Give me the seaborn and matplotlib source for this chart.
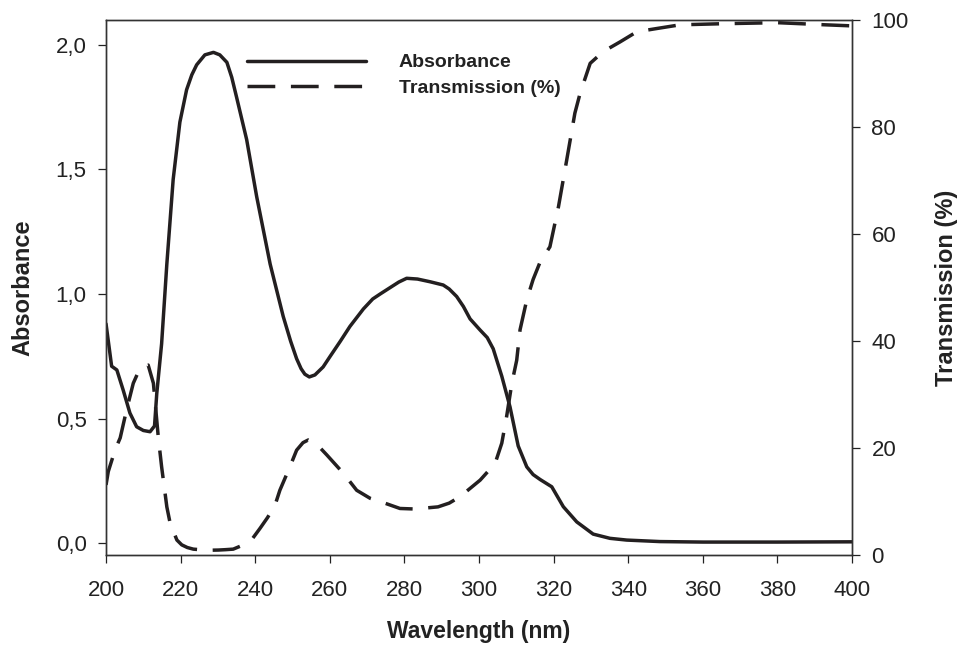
import numpy as np
import pandas as pd
import matplotlib
matplotlib.use("Agg")
import matplotlib.pyplot as plt
import seaborn as sns
from matplotlib.ticker import FuncFormatter

# Absorbance curve (left axis)
abs_nm = [200.0, 201.5, 202.9, 204.6, 206.4, 208.2, 210.0, 211.8, 213.0, 213.6,
          214.9, 216.3, 218.0, 219.8, 221.6, 223.0, 224.3, 226.5, 228.8, 230.5,
          232.4, 233.7, 235.0, 237.7, 240.4, 244.0, 247.5, 249.5, 251.1, 252.3,
          253.3, 254.5, 256.0, 258.2, 260.1, 262.8, 265.4, 269.0, 271.5, 273.5,
          276.1, 278.5, 280.6, 283.5, 286.9, 290.4, 292.0, 294.0, 295.8, 297.6,
          300.3, 302.2, 303.8, 306.1, 308.3, 310.5, 312.8, 314.5, 316.4, 319.5,
          322.6, 326.2, 330.6, 335.1, 339.6, 348.5, 360.0, 380.0, 400.0]
absorbance = [0.88, 0.71, 0.695, 0.614, 0.522, 0.467, 0.452, 0.447, 0.47, 0.60,
              0.80, 1.12, 1.46, 1.69, 1.82, 1.88, 1.92, 1.96, 1.97, 1.96,
              1.93, 1.87, 1.79, 1.62, 1.39, 1.12, 0.91, 0.81, 0.74, 0.70,
              0.678, 0.667, 0.675, 0.707, 0.75, 0.81, 0.87, 0.94, 0.98, 1.00,
              1.025, 1.048, 1.063, 1.06, 1.049, 1.036, 1.02, 0.99, 0.95, 0.90,
              0.855, 0.825, 0.78, 0.67, 0.547, 0.39, 0.306, 0.275, 0.255, 0.226,
              0.146, 0.085, 0.036, 0.019, 0.012, 0.006, 0.004, 0.004, 0.005]

# Transmission curve (right axis, %)
tr_nm = [200.0, 200.6, 202.4, 203.8, 205.5, 207.3, 208.7, 210.0, 211.3, 212.7,
         214.0, 214.9, 216.3, 217.2, 219.0, 220.3, 221.8, 223.4, 226.0, 228.0,
         230.1, 232.0, 234.1, 236.5, 239.3, 241.3, 243.3, 245.3, 246.6, 249.3,
         251.1, 252.8, 254.2, 256.5, 259.2, 263.6, 267.2, 270.8, 273.5, 278.8,
         282.8, 289.0, 292.0, 294.9, 300.3, 304.3, 306.1, 307.4, 308.8, 310.1,
         311.0, 312.8, 314.5, 316.4, 319.0, 321.3, 323.5, 325.7, 327.1, 329.8,
         333.3, 337.8, 342.3, 347.6, 353.9, 365.0, 380.0, 392.8, 400.0]
transmission = [13.1, 15.6, 19.6, 21.9, 27.1, 32.1, 34.3, 35.3, 35.5, 32.1,
                22.1, 16.5, 9.0, 5.9, 2.8, 1.9, 1.4, 1.1, 0.95, 0.9,
                0.93, 1.0, 1.1, 1.8, 3.1, 5.0, 7.0, 9.3, 12.1, 16.5,
                19.6, 21.0, 21.5, 20.7, 18.7, 15.3, 12.1, 10.6, 10.0, 8.7,
                8.6, 9.0, 9.7, 10.9, 14.0, 17.1, 20.9, 25.9, 32.1, 36.4,
                42.1, 47.7, 51.5, 54.8, 57.6, 65.1, 73.8, 82.6, 86.3, 91.9,
                94.1, 95.9, 97.8, 98.4, 99.1, 99.3, 99.5, 99.1, 98.9]

x_ticks = list(range(200, 401, 20))
left_ticks = [0.0, 0.5, 1.0, 1.5, 2.0]
right_ticks = [0, 20, 40, 60, 80, 100]

sns.set_style("ticks")
plt.rcParams['font.family'] = ['Liberation Sans', 'DejaVu Sans']

ink = '#231f20'
df_abs = pd.DataFrame({'nm': abs_nm, 'val': absorbance})
df_tr = pd.DataFrame({'nm': tr_nm, 'val': transmission})

fig, ax = plt.subplots(figsize=(9.57, 6.45), dpi=100)
fig.subplots_adjust(left=0.1108, right=0.8903, top=0.969, bottom=0.1395)
ax2 = ax.twinx()

sns.lineplot(data=df_abs, x='nm', y='val', ax=ax, color=ink, lw=2.5,
             sort=False, label='Absorbance', legend=False)
sns.lineplot(data=df_tr, x='nm', y='val', ax=ax2, color=ink, lw=2.5,
             sort=False, label='Transmission (%)', legend=False)
for ln in ax.lines + ax2.lines:
    ln.set_solid_joinstyle('round')
    ln.set_dash_joinstyle('round')
ax2.lines[0].set_dashes([8.0, 4.5])

ax.set_xlim(200, 400)
ax.set_ylim(-0.048, 2.1)
ax2.set_ylim(0, 100)
ax.set_xticks(x_ticks)
ax.set_yticks(left_ticks)
ax2.set_yticks(right_ticks)
ax.yaxis.set_major_formatter(FuncFormatter(lambda v, p: f"{v:.1f}".replace('.', ',')))

for a in (ax, ax2):
    a.tick_params(direction='out', length=6, width=0.9, labelsize=16,
                  colors='#222222', pad=8)
    for s in a.spines.values():
        s.set_visible(True)
        s.set_linewidth(1.0)
        s.set_color('#333333')
ax.tick_params(axis='x', pad=12)

ax.set_xlabel('Wavelength (nm)', fontsize=16.5, fontweight='bold', color='#222222', labelpad=14)
ax.set_ylabel('Absorbance', fontsize=17, fontweight='bold', color='#222222', labelpad=15)
ax2.set_ylabel('Transmission (%)', fontsize=17, fontweight='bold', color='#222222', labelpad=19)

h1, l1 = ax.get_legend_handles_labels()
h2, l2 = ax2.get_legend_handles_labels()
leg = ax2.legend(h1 + h2, l1 + l2, loc='upper left', bbox_to_anchor=(0.189, 0.937),
                 frameon=False, borderpad=0, borderaxespad=0, handlelength=6.1,
                 handletextpad=1.7, labelspacing=0.42,
                 prop={'weight': 'bold', 'size': 14})
for t in leg.get_texts():
    t.set_color('#222222')

fig.savefig('out.png', dpi=100)
